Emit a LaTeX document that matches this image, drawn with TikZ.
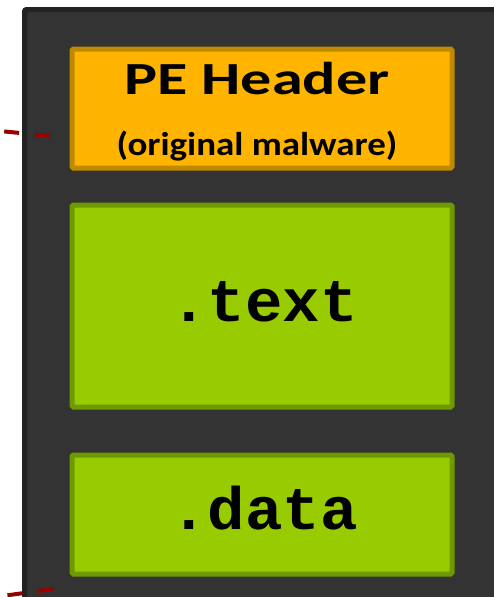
\documentclass[tikz,border=0pt]{standalone}
\usepackage{fontspec}
\setmainfont{Carlito}
\setmonofont{Liberation Mono}
\definecolor{panel}{HTML}{333333}
\definecolor{paneledge}{HTML}{222222}
\definecolor{hdrfill}{HTML}{FFB400}
\definecolor{hdredge}{HTML}{BF8A00}
\definecolor{secfill}{HTML}{99CC00}
\definecolor{secedge}{HTML}{6E9A00}
\definecolor{linkred}{HTML}{990000}
\begin{document}
\begin{tikzpicture}[x=1pt,y=-1pt,
  section/.style={draw=secedge,fill=secfill,line width=5pt,rounded corners=1.5pt,
    minimum width=380pt,inner sep=0pt,text=black},
  header/.style={section,draw=hdredge,fill=hdrfill},
  label/.style={anchor=base,inner sep=0pt},
  monolabel/.style={label,xscale=1.04,font=\ttfamily\bfseries\fontsize{60}{62}\selectfont},
  link/.style={draw=linkred,line width=4pt,dash pattern=on 15pt off 16pt}]
\useasboundingbox (0,0) rectangle (493,597);
% outer image container
\draw[fill=panel,draw=paneledge,line width=5pt,rounded corners=2pt]
  (24.5,9.5) rectangle (540,640);
% sections
\node[header,minimum height=119pt,anchor=north west] (hdr) at (69.5,46.5) {};
\node[section,minimum height=202pt,anchor=north west] (text) at (69.5,202.5) {};
\node[section,minimum height=119pt,anchor=north west] (data) at (69.5,452.5) {};
\node[label,xscale=1.35,font=\bfseries\fontsize{46}{50}\selectfont] (hdrt) at (257,94) {PE Header};
\node[label,xscale=1.12,font=\bfseries\fontsize{33}{36}\selectfont] (hdrs) at (257,155) {(original malware)};
\node[monolabel] (textl) at (264,321) {.text};
\node[monolabel] (datal) at (264,529) {.data};
% links leading in from the left
\coordinate (t1) at (50,136);
\coordinate (t0) at (-200,111);
\coordinate (b1) at (53,589);
\coordinate (b0) at (-200,624);
\draw[link] (t1) -- (t0);
\draw[link] (b1) -- (b0);
\end{tikzpicture}
\end{document}
